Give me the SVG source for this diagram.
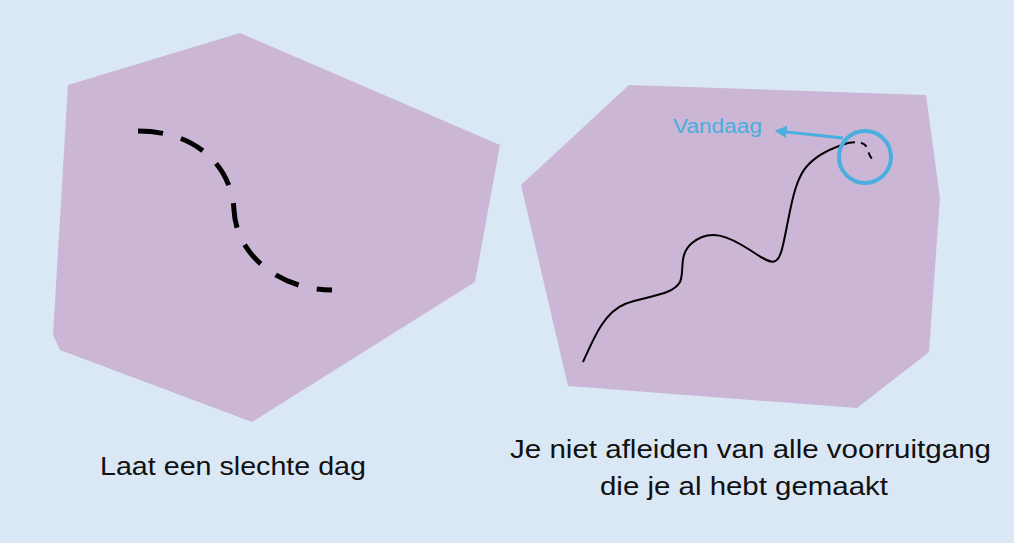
<svg xmlns="http://www.w3.org/2000/svg" width="1014" height="543" viewBox="0 0 1014 543">
<defs>
<style>
.shape{fill:#cbb6d6;stroke:none}
.lbl{font-family:"Liberation Sans","DejaVu Sans",sans-serif;font-size:25px;fill:#111}
.blue{fill:#4aaede;font-family:"Liberation Sans","DejaVu Sans",sans-serif;font-size:20px}
</style>
<marker id="ah" viewBox="0 0 10 10" refX="8" refY="5" markerWidth="4" markerHeight="4" orient="auto-start-reverse" markerUnits="strokeWidth">
<path d="M0,0 L10,5 L0,10 z" fill="#4aaede"/>
</marker>
</defs>
<rect width="1014" height="543" fill="#dae8f6"/>
<g id="left-panel">
<polygon class="shape" points="68,85 240,33 500,145 475,282 252,422 60,350 53,335"/>
<path d="M138,131 C200,131 232,170 234,210 C236,255 280,290 332,290" fill="none" stroke="#000" stroke-width="5" pathLength="254" stroke-dasharray="23,17"/>
<text class="lbl" x="100" y="475" textLength="266" lengthAdjust="spacingAndGlyphs">Laat een slechte dag</text>
</g>
<g id="right-panel">
<polygon class="shape" points="629,85 926,95 940,198 929,352 857,408 568,386 521,185"/>
<path d="M583,362 C595,335 605,312 625,304 C645,296 672,296 680,282 C685,270 678,255 692,243 C710,228 728,236 750,250 C770,263 778,270 783,245 C790,215 793,180 808,165 C820,152 838,146 848,143" fill="none" stroke="#000" stroke-width="2"/>
<path d="M848,143 C858,141 866,142 868,150 C869,156 872,160 876,162" fill="none" stroke="#000" stroke-width="2" stroke-dasharray="7,6"/>
<circle cx="865" cy="157" r="26" fill="none" stroke="#4aaede" stroke-width="4"/>
</g>
<g id="connectors">
<line x1="843" y1="138" x2="777" y2="131" stroke="#4aaede" stroke-width="3" marker-end="url(#ah)"/>
</g>
<g id="vandaag">
<text class="blue" x="673" y="133" textLength="89" lengthAdjust="spacingAndGlyphs">Vandaag</text>
</g>
<g id="right-caption">
<text class="lbl" x="510" y="458" textLength="481" lengthAdjust="spacingAndGlyphs">Je niet afleiden van alle voorruitgang</text>
<text class="lbl" x="600" y="495" textLength="288" lengthAdjust="spacingAndGlyphs">die je al hebt gemaakt</text>
</g>
</svg>
